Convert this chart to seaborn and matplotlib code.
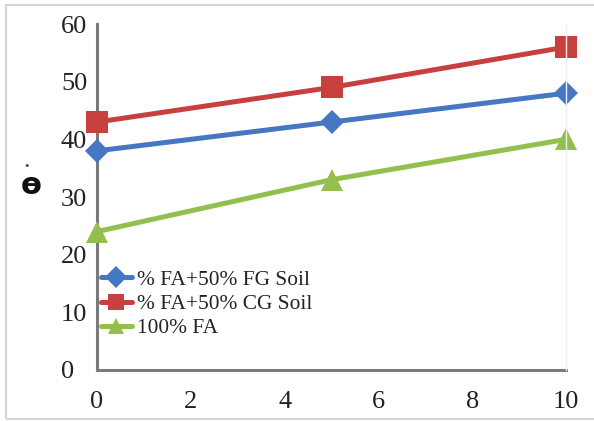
import matplotlib
matplotlib.use("Agg")
import matplotlib.pyplot as plt
from matplotlib.patches import Rectangle
import seaborn as sns
import pandas as pd

# Fly ash content and friction angle for each mix
x_values = [0, 5, 10]
fg_soil = [38, 43, 48]
cg_soil = [43, 49, 56]
fa_only = [24, 33, 40]
series_names = ["% FA+50% FG Soil", "% FA+50% CG Soil", "100% FA"]
x_ticks = [0, 2, 4, 6, 8, 10]
y_ticks = [0, 10, 20, 30, 40, 50, 60]

df = pd.DataFrame({
    "x": x_values * 3,
    "phi": fg_soil + cg_soil + fa_only,
    "mix": [series_names[0]] * 3 + [series_names[1]] * 3 + [series_names[2]] * 3,
})

sns.set_style("white")
plt.rcParams["font.family"] = ["Liberation Serif", "DejaVu Serif"]

colors = {series_names[0]: "#4677C2", series_names[1]: "#C8403E", series_names[2]: "#93BF4E"}
markers = {series_names[0]: "D", series_names[1]: "s", series_names[2]: "^"}
msizes = {series_names[0]: 12.5, series_names[1]: 16.5, series_names[2]: 16}

fig = plt.figure(figsize=(5.94, 4.21), dpi=100)
ax = fig.add_axes([97 / 594, 1 - 370 / 421, (566 - 97) / 594, (370 - 24) / 421])

for name in series_names:
    sub = df[df["mix"] == name]
    sns.lineplot(data=sub, x="x", y="phi", ax=ax, color=colors[name],
                 marker=markers[name], markersize=msizes[name],
                 markeredgewidth=0, linewidth=3.6, label=name, clip_on=False)

ax.set_xlim(0, 10)
ax.set_ylim(0, 60)
ax.set_xticks(x_ticks)
ax.set_yticks(y_ticks)
ax.tick_params(axis="both", labelsize=19, length=0, colors="#222222")
ax.tick_params(axis="x", pad=15)
ax.tick_params(axis="y", pad=26)
for lab in ax.get_yticklabels():
    lab.set_horizontalalignment("left")
ax.set_xlabel("")
ax.set_ylabel("")

ax.spines["top"].set_visible(False)
ax.spines["right"].set_color("#eeeeee")
ax.spines["right"].set_linewidth(1)
for side in ["left", "bottom"]:
    ax.spines[side].set_color("#7a7a7a")
    ax.spines[side].set_linewidth(2.2)
    ax.spines[side].set_zorder(1)

# Angle symbol on the y side
fig.text(31 / 594, 1 - 186 / 421, "ө", fontsize=22, fontweight="bold",
         family="DejaVu Sans", ha="center", va="center", color="#111111")
fig.text(27 / 594, 1 - 166 / 421, "•", fontsize=8, family="DejaVu Sans",
         ha="center", va="center", color="#555555")

leg = ax.legend(loc="upper left", bbox_to_anchor=(0.008, 0.289), frameon=False,
                fontsize=15.4, handlelength=1.45, handletextpad=0.25,
                labelspacing=0.2, borderaxespad=0, borderpad=0)
for txt in leg.get_texts():
    txt.set_color("#222222")
for h in leg.legend_handles:
    h.set_markersize(11)

# Outer chart frame
fig.add_artist(Rectangle((6 / 594, 2 / 421), 1.2, 1 - 7 / 421, transform=fig.transFigure,
                         fill=False, edgecolor="#d4d4d4", linewidth=1.5))

fig.savefig("out.png", dpi=100)
